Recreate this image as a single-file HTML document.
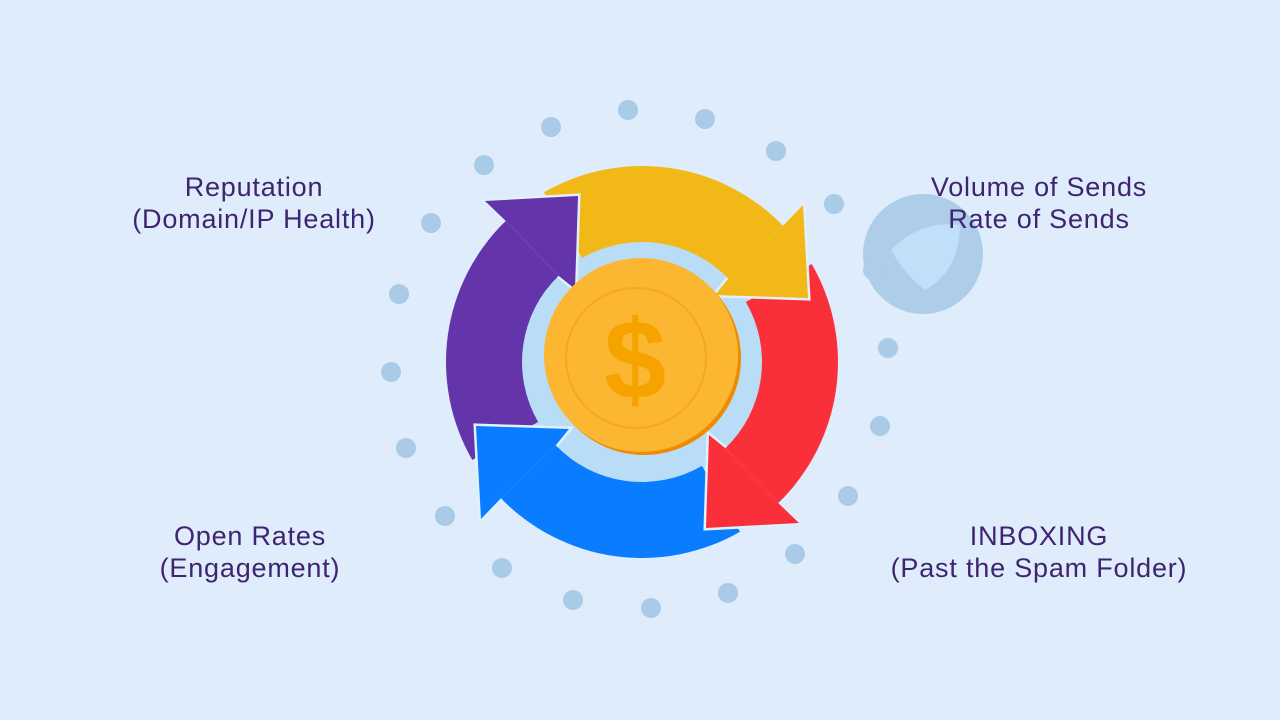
<!DOCTYPE html>
<html><head><meta charset="utf-8"><style>
html,body{margin:0;padding:0;}
body{width:1280px;height:720px;background:#dfecfb;overflow:hidden;position:relative;font-family:"Liberation Sans",sans-serif;}
.t{position:absolute;color:#3f2470;font-size:27px;line-height:32px;text-align:center;width:420px;letter-spacing:0.8px;}
</style></head><body>
<svg width="1280" height="720" style="position:absolute;left:0;top:0">
<g fill="#a9cbe8">
<circle cx="628" cy="110" r="10"/><circle cx="705" cy="119" r="10"/><circle cx="776" cy="151" r="10"/><circle cx="834" cy="204" r="10"/><circle cx="888" cy="348" r="10"/><circle cx="880" cy="426" r="10"/><circle cx="848" cy="496" r="10"/><circle cx="795" cy="554" r="10"/><circle cx="728" cy="593" r="10"/><circle cx="651" cy="608" r="10"/><circle cx="573" cy="600" r="10"/><circle cx="502" cy="568" r="10"/><circle cx="445" cy="516" r="10"/><circle cx="406" cy="448" r="10"/><circle cx="391" cy="372" r="10"/><circle cx="399" cy="294" r="10"/><circle cx="431" cy="223" r="10"/><circle cx="484" cy="165" r="10"/><circle cx="551" cy="127" r="10"/>
</g>
<circle cx="923" cy="254" r="60" fill="#aecde9"/>
<circle cx="873" cy="270" r="10" fill="#aecde9"/>
<path d="M891,250 Q920,220 960,225 Q960,270 925,290 Q905,275 891,250Z" fill="#bfe0f8"/>
<circle cx="642" cy="362" r="124" fill="#b9ddf6"/>
<defs>
<path id="band" d="M544,192.3 A196 196 0 0 1 783,225.8 L728.3,278.6 A120 120 0 0 0 582,258.1 Z"/>
<path id="head" d="M783,225.8 L803,205 L808,298 L715,295 L728.3,278.6 Z"/>
<path id="seg" d="M762.7,207.6 A196 196 0 0 1 783,225.8 L728.3,278.6 A120 120 0 0 0 715.9,267.4 Z"/>
</defs>
<g>
<use href="#band" fill="#f2b817"/>
<use href="#band" fill="#f9303a" transform="rotate(90 642 362)"/>
<use href="#band" fill="#0a7cff" transform="rotate(180 642 362)"/>
<use href="#band" fill="#6435aa" transform="rotate(270 642 362)"/>
</g>
<g stroke="#e2f0fc" stroke-width="5" stroke-linejoin="miter">
<use href="#head" fill="#f2b817"/>
<use href="#head" fill="#f9303a" transform="rotate(90 642 362)"/>
<use href="#head" fill="#0a7cff" transform="rotate(180 642 362)"/>
<use href="#head" fill="#6435aa" transform="rotate(270 642 362)"/>
</g>
<g>
<use href="#seg" fill="#f2b817"/><use href="#head" fill="#f2b817"/>
<g transform="rotate(90 642 362)"><use href="#seg" fill="#f9303a"/><use href="#head" fill="#f9303a"/></g>
<g transform="rotate(180 642 362)"><use href="#seg" fill="#0a7cff"/><use href="#head" fill="#0a7cff"/></g>
<g transform="rotate(270 642 362)"><use href="#seg" fill="#6435aa"/><use href="#head" fill="#6435aa"/></g>
</g>
<circle cx="644" cy="358" r="97" fill="#f08a00"/>
<circle cx="641" cy="355" r="97" fill="#fbb731"/>
<circle cx="636" cy="358" r="70" fill="none" stroke="#f6a623" stroke-width="2"/>
<text x="635" y="398" text-anchor="middle" font-family="Liberation Sans, sans-serif" font-weight="bold" font-size="112" fill="#f6a300">$</text>
</svg>
<div class="t" style="left:44px;top:171px">Reputation<br>(Domain/IP Health)</div>
<div class="t" style="left:829px;top:171px">Volume of Sends<br>Rate of Sends</div>
<div class="t" style="left:40px;top:520px">Open Rates<br>(Engagement)</div>
<div class="t" style="left:829px;top:520px">INBOXING<br>(Past the Spam Folder)</div>
</body></html>
